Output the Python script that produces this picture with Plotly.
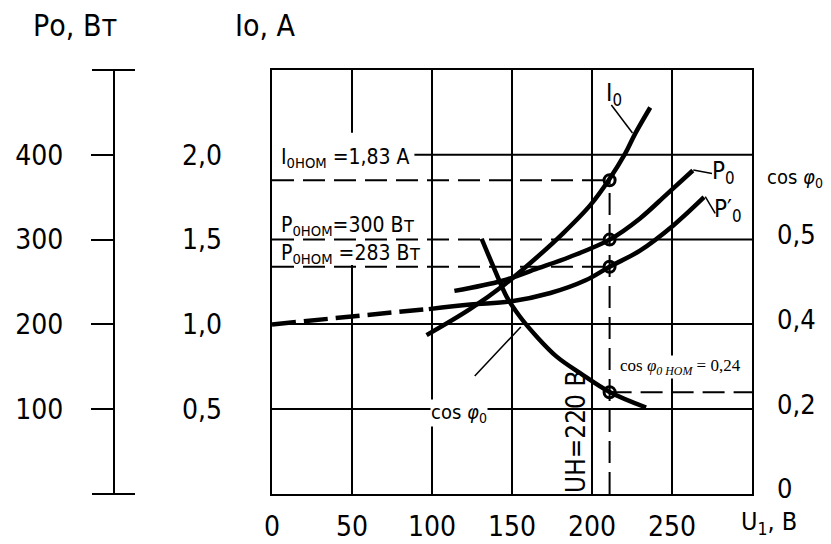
import plotly.graph_objects as go

# ---------------- data ----------------
U_I0 = [96.6, 123.7, 145.6, 165.6, 181.9, 198.8, 210.3, 220.8, 227.0, 236.4]
I0 = [0.937, 1.09, 1.237, 1.396, 1.537, 1.702, 1.849, 2.008, 2.125, 2.279]

U_P0 = [114, 144, 166, 186, 211, 230, 247, 263]
P0 = [239.5, 251.5, 266, 279.5, 300, 325, 354, 381.5]

U_P0p_dash = [0, 50, 99]
P0p_dash = [200, 210, 218.5]
U_P0p = [98, 124, 149, 174, 196, 211, 230, 251, 270]
P0p = [218, 223.5, 227, 237, 252, 268, 287, 317, 350]

U_cos = [131, 139.4, 146.7, 155, 165.5, 177.9, 192.6, 211.3, 233.8]
COS = [0.602, 0.527, 0.465, 0.418, 0.371, 0.324, 0.285, 0.240, 0.204]

U_NOM = 211
I_NOM = 1.85
P_NOM = 300
P_NOM_P = 268
COS_NOM = 0.24

X_TICKS = [0, 50, 100, 150, 200, 250]
X_TEXT = ["0", "50", "100", "150", "200", "250"]
P_TICKS = [100, 200, 300, 400]
P_TEXT = ["100", "200", "300", "400"]
I_TICKS = [0.5, 1.0, 1.5, 2.0]
I_TEXT = ["0,5", "1,0", "1,5", "2,0"]
C_TICKS = [0, 0.2, 0.4, 0.6]
C_TEXT = ["0", "0,2", "0,4", "0,5"]

# ---------------- style ----------------
FONT = "DejaVu Sans Condensed, DejaVu Sans, sans-serif"
SERIF = "Liberation Serif, DejaVu Serif, serif"
K = "black"
PW, PH, TOP = 752.0, 424.0, 70.0


def px(x):
    return x / PW


def py(y):
    return (TOP + PH - y) / PH


fig = go.Figure()

curve = dict(color=K, width=4.5)
fig.add_trace(go.Scatter(x=U_P0p_dash, y=P0p_dash, mode="lines", yaxis="y2",
                         line=dict(color=K, width=4.5, dash="24px,8px")))
fig.add_trace(go.Scatter(x=U_P0p, y=P0p, mode="lines", yaxis="y2",
                         line=dict(shape="spline", smoothing=1.0, **curve)))
fig.add_trace(go.Scatter(x=U_P0, y=P0, mode="lines", yaxis="y2",
                         line=dict(shape="spline", smoothing=1.0, **curve)))
fig.add_trace(go.Scatter(x=U_I0, y=I0, mode="lines", yaxis="y3",
                         line=dict(shape="spline", smoothing=1.0, **curve)))
fig.add_trace(go.Scatter(x=U_cos, y=COS, mode="lines", yaxis="y4",
                         line=dict(shape="spline", smoothing=1.0, **curve)))

dash = dict(color=K, width=2, dash="22px,9px")
fig.add_trace(go.Scatter(x=[0, U_NOM], y=[I_NOM, I_NOM], mode="lines", yaxis="y3", line=dash))
fig.add_trace(go.Scatter(x=[U_NOM, U_NOM], y=[0, I_NOM], mode="lines", yaxis="y3", line=dash))
fig.add_trace(go.Scatter(x=[0, U_NOM], y=[P_NOM, P_NOM], mode="lines", yaxis="y2", line=dash))
fig.add_trace(go.Scatter(x=[0, U_NOM], y=[P_NOM_P, P_NOM_P], mode="lines", yaxis="y2", line=dash))
fig.add_trace(go.Scatter(x=[U_NOM, 300], y=[COS_NOM, COS_NOM], mode="lines", yaxis="y4", line=dash))

mk = dict(symbol="circle-open", size=11, color=K, line=dict(color=K, width=3))
fig.add_trace(go.Scatter(x=[U_NOM], y=[I_NOM], mode="markers", yaxis="y3", marker=mk))
fig.add_trace(go.Scatter(x=[U_NOM, U_NOM], y=[P_NOM, P_NOM_P], mode="markers", yaxis="y2", marker=mk))
fig.add_trace(go.Scatter(x=[U_NOM], y=[COS_NOM], mode="markers", yaxis="y4", marker=mk))

# ---------------- shapes: grid gaps, partial grid lines, leaders, caps ----------------
shapes = [
    dict(type="rect", xref="x", yref="y", x0=0.6, x1=91, y0=270, y1=426,
         fillcolor="white", line=dict(width=0), layer="between"),
    dict(type="line", xref="x", yref="y", x0=U_NOM, x1=300, y0=300, y1=300,
         line=dict(color=K, width=2), layer="between"),
    dict(type="line", xref="x", yref="y", x0=89, x1=300, y0=400, y1=400,
         line=dict(color=K, width=2), layer="between"),
    # leaders
    dict(type="line", xref="x", yref="y", x0=212.1, y0=458.7, x1=225.3, y1=425.7,
         line=dict(color=K, width=1.5)),
    dict(type="line", xref="x", yref="y", x0=263.3, y0=382, x1=275, y1=378,
         line=dict(color=K, width=1.5)),
    dict(type="line", xref="x", yref="y", x0=270.8, y0=350.6, x1=277, y1=331,
         line=dict(color=K, width=1.5)),
    dict(type="line", xref="x", yref="y", x0=126.7, y0=139.2, x1=155.5, y1=197,
         line=dict(color=K, width=1.5)),
    # caps of the power scale
    dict(type="line", xref="paper", yref="paper", x0=px(92), x1=px(135), y0=1, y1=1,
         line=dict(color=K, width=2)),
    dict(type="line", xref="paper", yref="paper", x0=px(92), x1=px(135), y0=0, y1=0,
         line=dict(color=K, width=2)),
]


def ann(text, x, y, size, family=FONT, xanchor="center", bg=None, angle=0):
    d = dict(text=text, x=px(x), y=py(y), xref="paper", yref="paper", showarrow=False,
             xanchor=xanchor, yanchor="middle", font=dict(family=family, size=size, color=K),
             textangle=angle, borderpad=0)
    if bg:
        d["bgcolor"] = bg
    return d


annotations = [
    ann("Ро, Вт", 75, 26, 30),
    ann("Io, А", 265, 26, 30),
    ann("I<sub>0НОМ</sub> =1,83 А", 280, 158, 21, xanchor="left"),
    ann("P<sub>0НОМ</sub>=300 Вт", 280, 226, 21, xanchor="left"),
    ann("P<sub>0НОМ</sub> =283 Вт", 280, 254, 21, xanchor="left"),
    ann("cos <i>φ</i><sub>0</sub>", 459, 413, 20, bg="white"),
    ann("cos <i>φ</i><sub><i>0 НОМ</i></sub> = 0,24", 680, 367, 17, family=SERIF, bg="white"),
    ann("cos <i>φ</i><sub>0</sub>", 795, 178, 20),
    ann("U<sub>1</sub>, В", 769, 523, 25),
    ann("UН=220 В", 576, 432, 26, angle=-90),
    ann("I<sub>0</sub>", 614, 94, 24),
    ann("P<sub>0</sub>", 723, 172, 24),
    ann("P′<sub>0</sub>", 728, 210, 24),
]

axis_common = dict(zeroline=False, color=K, automargin=False)
fig.update_layout(
    width=831, height=544,
    margin=dict(l=0, r=79, t=70, b=50, autoexpand=False),
    paper_bgcolor="white", plot_bgcolor="white",
    showlegend=False,
    font=dict(family=FONT, color=K, size=28),
    xaxis=dict(domain=[272 / PW, 1], range=[0, 300], tickmode="array", tickvals=X_TICKS,
               ticktext=X_TEXT, showgrid=True, gridcolor=K, gridwidth=2, showline=True,
               mirror=True, linecolor=K, linewidth=2, ticks="", tickfont=dict(size=28),
               ticklabelstandoff=6, **axis_common),
    yaxis=dict(domain=[0, 1], anchor="x", range=[0, 500], tickmode="array", tickvals=[100, 200],
               showticklabels=False, showgrid=True, gridcolor=K, gridwidth=2, showline=True,
               mirror=True, linecolor=K, linewidth=2, ticks="", **axis_common),
    yaxis2=dict(overlaying="y", anchor="free", position=114 / PW, side="left", range=[0, 500],
                tickmode="array", tickvals=P_TICKS, ticktext=P_TEXT, ticks="outside", ticklen=22,
                tickwidth=2, tickcolor=K, showline=True, linecolor=K, linewidth=2, showgrid=False,
                ticklabelstandoff=22, tickfont=dict(size=28), **axis_common),
    yaxis3=dict(overlaying="y", anchor="free", position=272 / PW, side="left", range=[0, 2.5],
                tickmode="array", tickvals=I_TICKS, ticktext=I_TEXT, ticks="", showline=False,
                showgrid=False, ticklabelstandoff=50, tickfont=dict(size=28), **axis_common),
    yaxis4=dict(overlaying="y", anchor="x", side="right", range=[0, 1.0], tickmode="array",
                tickvals=C_TICKS, ticktext=C_TEXT, ticks="", showline=False, showgrid=False,
                ticklabelstandoff=24, ticklabelshift=-5, tickfont=dict(size=27), **axis_common),
    shapes=shapes,
    annotations=annotations,
)

fig.write_html("out.html", config={"displayModeBar": False},
               post_script="document.body.style.margin='0px';")
